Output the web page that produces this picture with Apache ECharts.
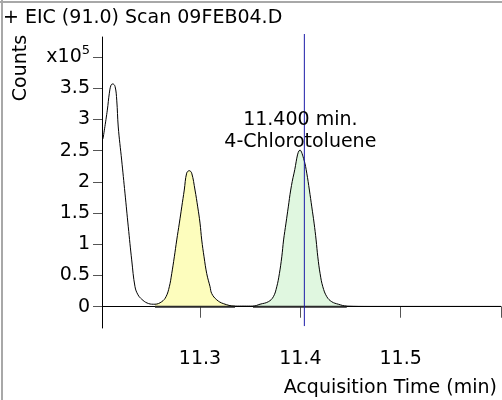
<!DOCTYPE html>
<html>
<head>
<meta charset="utf-8">
<script src="https://cdn.jsdelivr.net/npm/echarts@6/dist/echarts.min.js"></script>
<style>
  html, body { margin: 0; padding: 0; background: #fff; }
  #chart { width: 502px; height: 400px; }
</style>
</head>
<body>
<div id="chart"></div>
<script>
// EIC trace, counts in units of 1e5, time in minutes
const leadTime   = [11.2033, 11.2076, 11.2096, 11.2113, 11.2130, 11.2153, 11.2170, 11.2185, 11.2219, 11.2252, 11.2285, 11.2319, 11.2352, 11.2382, 11.2419, 11.2472, 11.2534];
const leadCounts = [2.69, 3.15, 3.42, 3.55, 3.57, 3.53, 3.31, 2.88, 2.35, 1.82, 1.28, 0.75, 0.32, 0.19, 0.12, 0.06, 0.04];

// first integrated peak (yellow)
const peak1Time   = [11.2551, 11.2618, 11.2661, 11.2694, 11.2718, 11.2744, 11.2768, 11.2794, 11.2818, 11.2843, 11.2867, 11.2893, 11.2917, 11.2950, 11.2977, 11.3000, 11.3017, 11.3040, 11.3067, 11.3100, 11.3117, 11.3167, 11.3232, 11.3349];
const peak1Counts = [0.04, 0.08, 0.16, 0.32, 0.53, 0.80, 1.07, 1.34, 1.60, 1.87, 2.14, 2.18, 2.14, 1.87, 1.60, 1.34, 1.07, 0.80, 0.53, 0.32, 0.21, 0.11, 0.05, 0.01];

const gapTime   = [11.3440];
const gapCounts = [0.01];

// second integrated peak (green) - 4-Chlorotoluene
const peak2Time   = [11.3528, 11.3598, 11.3681, 11.3731, 11.3765, 11.3791, 11.3815, 11.3833, 11.3857, 11.3880, 11.3904, 11.3937, 11.3997, 11.4037, 11.4064, 11.4090, 11.4114, 11.4137, 11.4157, 11.4174, 11.4197, 11.4224, 11.4264, 11.4313, 11.4379, 11.4463];
const peak2Counts = [0.01, 0.04, 0.08, 0.16, 0.32, 0.53, 0.80, 1.07, 1.34, 1.60, 1.87, 2.14, 2.51, 2.35, 2.14, 1.87, 1.60, 1.34, 1.07, 0.80, 0.53, 0.32, 0.16, 0.08, 0.04, 0.01];

const tailTime   = [11.4700, 11.5200, 11.5600, 11.6000];
const tailCounts = [0.005, 0.005, 0.005, 0.005];

const markerTime = 11.404;
const markerRange = [-0.31, 4.37];
const peakLabelTime = 11.400;
const peakLabelName = '4-Chlorotoluene';

const xTicks = [11.3, 11.4, 11.5, 11.6];
const xLabels = [11.3, 11.4, 11.5];
const yTicks = [0, 0.5, 1, 1.5, 2, 2.5, 3, 3.5, 4];

const FONT = 'DejaVu Sans';
const SMOOTH = 0.4;
const zip = (xs, ys) => xs.map((x, i) => [x, ys[i]]);

const trace = [].concat(
  zip(leadTime, leadCounts),
  zip(peak1Time, peak1Counts),
  zip(gapTime, gapCounts),
  zip(peak2Time, peak2Counts),
  zip(tailTime, tailCounts)
);

const apexIdx = peak2Counts.indexOf(Math.max(...peak2Counts));

const chart = echarts.init(document.getElementById('chart'), null, { renderer: 'canvas' });

const peakArea = (xs, ys, color) => ({
  type: 'line',
  data: zip(xs, ys),
  symbol: 'none',
  smooth: SMOOTH,
  lineStyle: { width: 0 },
  areaStyle: { color: color, opacity: 1, origin: 0 },
  z: 1,
  silent: true
});

const baseLine = (xs) => ({
  type: 'line',
  data: [[xs[0], 0], [xs[xs.length - 1], 0]],
  symbol: 'none',
  lineStyle: { color: '#2a2a2a', width: 2 },
  z: 2,
  silent: true
});

chart.setOption({
  animation: false,
  backgroundColor: '#fff',
  textStyle: { fontFamily: FONT },
  title: [
    {
      text: '+ EIC (91.0) Scan 09FEB04.D',
      left: 3, top: 9, padding: 0,
      textStyle: { fontFamily: FONT, fontSize: 19, fontWeight: 'normal', color: '#000' }
    },
    {
      text: 'Acquisition Time (min)',
      right: 5, top: 379, padding: 0,
      textStyle: { fontFamily: FONT, fontSize: 19, fontWeight: 'normal', color: '#000' }
    }
  ],
  graphic: [
    { id: 'frameLeft', type: 'line', shape: { x1: 2, y1: 0, x2: 2, y2: 400 }, style: { stroke: '#a8a8a8', lineWidth: 2 }, silent: true },
    { id: 'frameTop', type: 'line', shape: { x1: 0, y1: 2, x2: 502, y2: 2 }, style: { stroke: '#a8a8a8', lineWidth: 2 }, silent: true },
    {
      id: 'yName', type: 'text', x: 21, y: 68, rotation: Math.PI / 2,
      style: { text: 'Counts', font: '19px "DejaVu Sans"', fill: '#000', align: 'center', verticalAlign: 'middle' }
    }
  ],
  grid: { left: 102, right: 1, top: 37, bottom: 72 },
  xAxis: {
    type: 'value',
    min: 11.2023, max: 11.6,
    offset: 2,
    axisLine: { lineStyle: { color: '#000', width: 1 } },
    axisTick: { show: true, customValues: xTicks, length: 11, lineStyle: { color: '#555' } },
    axisLabel: {
      customValues: xLabels, margin: 20,
      fontFamily: FONT, fontSize: 19, color: '#000',
      formatter: (v) => v.toFixed(1)
    },
    splitLine: { show: false }
  },
  yAxis: {
    type: 'value',
    min: -0.341, max: 4.322,
    axisLine: { show: true, lineStyle: { color: '#000', width: 1 } },
    axisTick: { show: true, customValues: yTicks, length: 9, lineStyle: { color: '#555' } },
    axisLabel: {
      customValues: yTicks, margin: 12,
      fontFamily: FONT, fontSize: 19, color: '#000',
      formatter: (v) => v === 4 ? '{a|x10}{b|5}' : String(v),
      rich: {
        a: { fontFamily: FONT, fontSize: 19, color: '#000' },
        b: { fontFamily: FONT, fontSize: 13, color: '#000', padding: [0, 0, 12, 0] }
      }
    },
    splitLine: { show: false }
  },
  series: [
    peakArea(peak1Time, peak1Counts, '#fdfdbd'),
    peakArea(peak2Time, peak2Counts, '#e0f7e0'),
    baseLine(peak1Time),
    baseLine(peak2Time),
    {
      type: 'line',
      data: trace,
      symbol: 'none',
      smooth: SMOOTH,
      lineStyle: { color: '#000', width: 1 },
      z: 3,
      silent: true
    },
    {
      type: 'line',
      data: [[markerTime, markerRange[0]], [markerTime, markerRange[1]]],
      symbol: 'none',
      clip: false,
      lineStyle: { color: '#1c1ca8', width: 1 },
      z: 4,
      silent: true
    }
  ]
});

// peak annotation, anchored at the apex of the labelled peak
const apexPx = chart.convertToPixel({ gridIndex: 0 }, [peakLabelTime, peak2Counts[apexIdx]]);
chart.setOption({
  graphic: [
    {
      id: 'peakLabel', type: 'text', x: apexPx[0], y: apexPx[1] + 3, z: 10,
      style: {
        text: peakLabelTime.toFixed(3) + ' min.\n' + peakLabelName,
        font: '19px "DejaVu Sans"', lineHeight: 22, fill: '#000',
        align: 'center', verticalAlign: 'bottom'
      }
    }
  ]
});
</script>
</body>
</html>
